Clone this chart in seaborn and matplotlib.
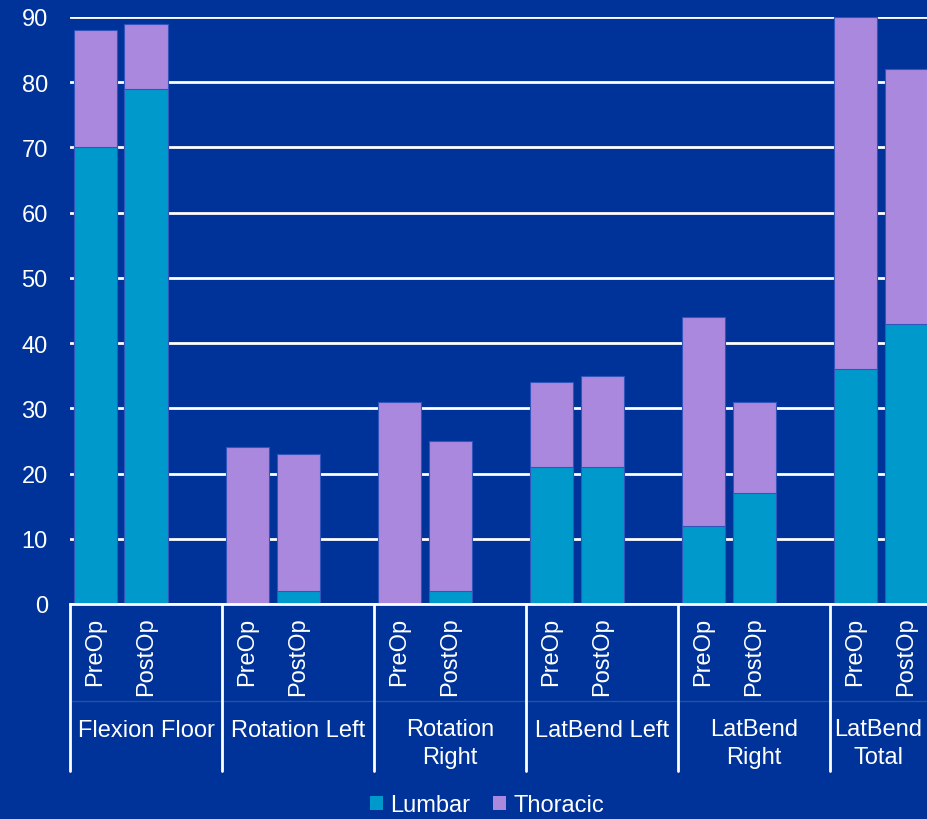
import numpy as np
import pandas as pd
import matplotlib
matplotlib.use("Agg")
import matplotlib.pyplot as plt
from matplotlib.patches import Patch
import matplotlib.transforms as mtransforms
import seaborn as sns

groups = ["Flexion Floor", "Rotation Left", "Rotation\nRight", "LatBend Left",
          "LatBend\nRight", "LatBend\nTotal"]
phases = ["PreOp", "PostOp"]
lumbar = [70, 79, 0, 2, 0, 2, 21, 21, 12, 17, 36, 43]
thoracic = [18, 10, 24, 21, 31, 23, 13, 14, 32, 14, 54, 39]
y_ticks = [0, 10, 20, 30, 40, 50, 60, 70, 80, 90]

BG = "#003399"
C_LUM = "#0099CC"
C_THO = "#AA88DD"
EDGE = "#3355BB"

sns.set_theme(style="white")
plt.rcParams["font.family"] = ["Liberation Sans", "DejaVu Sans"]
FS = 17

rows = []
for gi, g in enumerate(groups):
    for pi, p in enumerate(phases):
        k = gi * 2 + pi
        rows.append({"pos": gi * 3 + pi, "group": g, "phase": p,
                     "lumbar": lumbar[k], "thoracic": thoracic[k],
                     "total": lumbar[k] + thoracic[k]})
df = pd.DataFrame(rows)

fig = plt.figure(figsize=(9.27, 8.2), dpi=100, facecolor=BG)
ax = fig.add_axes([70 / 927, 1 - 605 / 820, 857 / 927, 587 / 820])
ax.set_facecolor(BG)

sns.barplot(data=df, x="pos", y="total", native_scale=True, color=C_THO,
            width=0.85, edgecolor=EDGE, linewidth=0.8, saturation=1, ax=ax,
            zorder=3)
sns.barplot(data=df, x="pos", y="lumbar", native_scale=True, color=C_LUM,
            width=0.85, edgecolor=EDGE, linewidth=0.8, saturation=1, ax=ax,
            zorder=3)

XMAX = 16.41
ax.set_xlim(-0.5, XMAX)
ax.set_ylim(0, 90)
ax.set_yticks(y_ticks)
ax.set_yticklabels([str(v) for v in y_ticks], color="white", fontsize=FS)
ax.tick_params(axis="y", length=0, pad=16)
ax.grid(axis="y", color="white", linewidth=2, zorder=1)
ax.set_axisbelow(True)
for s in ["left", "right", "top"]:
    ax.spines[s].set_visible(False)
ax.spines["bottom"].set_color("white")
ax.spines["bottom"].set_linewidth(2)
ax.spines["bottom"].set_zorder(4)

ax.set_xticks(df["pos"])
ax.set_xticklabels(df["phase"], rotation=90, color="white", fontsize=FS,
                   va="top", ha="center")
ax.tick_params(axis="x", length=0, pad=9)
ax.set_xlabel("")
ax.set_ylabel("")

trans = mtransforms.blended_transform_factory(ax.transData, ax.transAxes)
px = 1 / 587.0
for gi, g in enumerate(groups):
    yc = 731 if "\n" not in g else 744
    left = gi * 3 - 0.5
    right = min(gi * 3 + 2.5, XMAX)
    ax.text((left + right) / 2, -(yc - 605) * px, g, transform=trans,
            ha="center", va="center", color="white", fontsize=FS,
            linespacing=1.3, clip_on=False)
for gi in range(len(groups) + 1):
    xb = gi * 3 - 0.5
    ax.plot([xb, xb], [0, -(772 - 605) * px], transform=trans, color="white",
            linewidth=2, clip_on=False, zorder=5)
ax.plot([-0.5, 17.5], [-(702 - 605) * px] * 2, transform=trans,
        color="white", alpha=0.15, linewidth=1, clip_on=False)

handles = [Patch(facecolor=C_LUM, edgecolor="none", label="Lumbar"),
           Patch(facecolor=C_THO, edgecolor="none", label="Thoracic")]
leg = fig.legend(handles=handles, loc="center", bbox_to_anchor=(487 / 927, 1 - 806 / 820),
                 ncol=2, frameon=False, fontsize=FS, handlelength=0.55,
                 handleheight=0.55, handletextpad=0.3, columnspacing=1.0)
for t in leg.get_texts():
    t.set_color("white")

fig.savefig("out.png", dpi=100, facecolor=BG)
